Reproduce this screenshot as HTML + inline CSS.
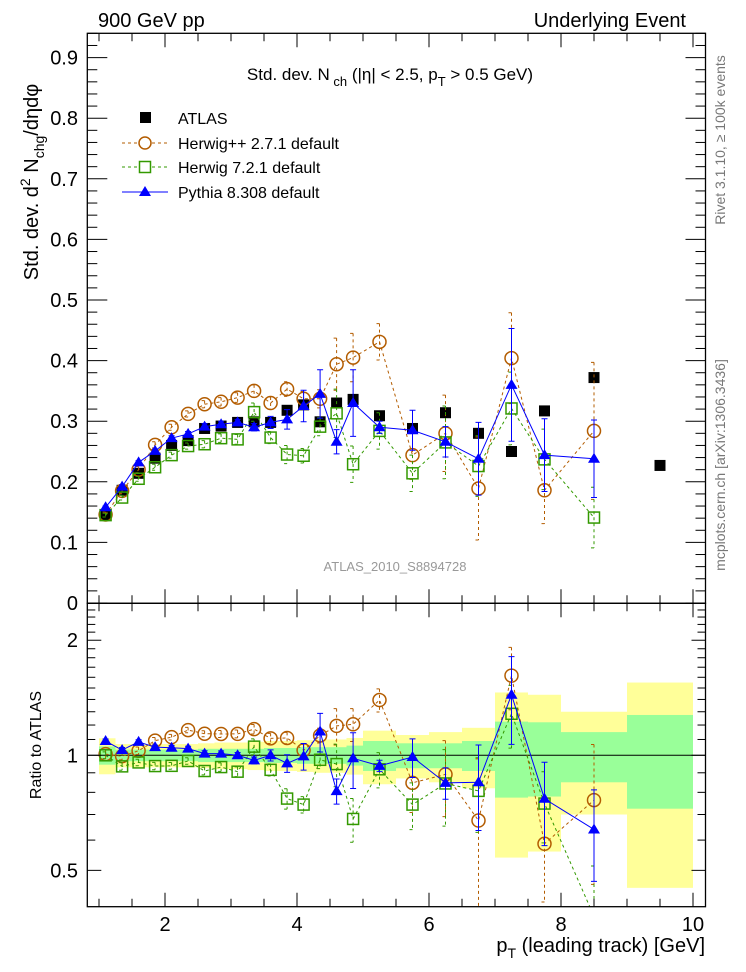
<!DOCTYPE html>
<html><head><meta charset="utf-8"><style>
body{margin:0;background:#fff}
svg{display:block;font-family:"Liberation Sans",sans-serif}
</style></head><body>
<svg id="chart" width="746" height="972" viewBox="0 0 746 972" xmlns="http://www.w3.org/2000/svg">
<rect width="746" height="972" fill="#fff"/>
<g id="ratioBands"></g>
<g id="marks"></g>
<g id="axes"></g>
<text x="98" y="27" font-size="20">900 GeV pp</text>
<text x="686" y="27" font-size="20" text-anchor="end">Underlying Event</text>
<text x="390" y="80" font-size="17" text-anchor="middle">Std. dev. N<tspan font-size="13" dy="6"> ch</tspan><tspan dy="-6"> (|η| &lt; 2.5, p</tspan><tspan font-size="13" dy="6">T</tspan><tspan dy="-6"> &gt; 0.5 GeV)</tspan></text>
<text x="395" y="571" font-size="13" fill="#999" text-anchor="middle">ATLAS_2010_S8894728</text>
<text transform="translate(725,140) rotate(-90)" font-size="14" fill="#777" text-anchor="middle">Rivet 3.1.10, ≥ 100k events</text>
<text transform="translate(725,465) rotate(-90)" font-size="14" fill="#777" text-anchor="middle">mcplots.cern.ch [arXiv:1306.3436]</text>
<text transform="translate(38,182) rotate(-90)" font-size="20" text-anchor="middle">Std. dev. d<tspan font-size="14" dy="-8">2</tspan><tspan dy="8"> N</tspan><tspan font-size="14" dy="6">chg</tspan><tspan dy="-6">/dηdφ</tspan></text>
<text transform="translate(41,745) rotate(-90)" font-size="16" text-anchor="middle">Ratio to ATLAS</text>
<text x="705" y="952" font-size="20" text-anchor="end">p<tspan font-size="14" dy="6">T</tspan><tspan dy="-6"> (leading track) [GeV]</tspan></text>
<g>
<rect x="140" y="112" width="11" height="11" fill="#000"/>
<text x="178" y="124" font-size="16">ATLAS</text>
<line x1="122" y1="143" x2="168" y2="143" stroke="#b35c00" stroke-dasharray="3,3"/>
<circle cx="145" cy="143" r="6" fill="#fff" stroke="#b35c00" stroke-width="1.5"/>
<text x="178" y="149" font-size="16">Herwig++ 2.7.1 default</text>
<line x1="122" y1="167" x2="168" y2="167" stroke="#339900" stroke-dasharray="3,3"/>
<rect x="139.5" y="161.5" width="11" height="11" fill="#fff" stroke="#339900" stroke-width="1.5"/>
<text x="178" y="173" font-size="16">Herwig 7.2.1 default</text>
<line x1="122" y1="192" x2="168" y2="192" stroke="#0000ff"/>
<polygon points="145,186 151,196 139,196" fill="#0000ff"/>
<text x="178" y="198" font-size="16">Pythia 8.308 default</text>
</g>
</svg>
<script>
const binLo = [1.0,1.25,1.5,1.75,2.0,2.25,2.5,2.75,3.0,3.25,3.5,3.75,4.0,4.25,4.5,4.75,5.0,5.5,6.0,6.5,7.0,7.5,8.0,9.0];
const binHi = [1.25,1.5,1.75,2.0,2.25,2.5,2.75,3.0,3.25,3.5,3.75,4.0,4.25,4.5,4.75,5.0,5.5,6.0,6.5,7.0,7.5,8.0,9.0,10.0];
const ptCenters = [1.1,1.35,1.6,1.85,2.1,2.35,2.6,2.85,3.1,3.35,3.6,3.85,4.1,4.35,4.6,4.85,5.25,5.75,6.25,6.75,7.25,7.75,8.5,9.5];
const atlas = [0.145,0.186,0.214,0.239,0.260,0.268,0.288,0.292,0.298,0.299,0.298,0.318,0.327,0.299,0.330,0.336,0.309,0.288,0.314,0.280,0.250,0.317,0.372,0.227];
const atlasTotRel = [0.108,0.07,0.07,0.07,0.07,0.07,0.075,0.08,0.08,0.085,0.09,0.09,0.095,0.10,0.10,0.11,0.16,0.13,0.15,0.18,0.46,0.44,0.30,0.55];
const atlasStatRel = [0.055,0.035,0.035,0.035,0.035,0.035,0.04,0.04,0.04,0.04,0.045,0.045,0.05,0.05,0.05,0.06,0.09,0.075,0.075,0.09,0.225,0.22,0.15,0.275];
const herwigpp = [0.146,0.185,0.220,0.261,0.290,0.312,0.328,0.332,0.339,0.350,0.330,0.353,0.337,0.337,0.394,0.405,0.431,0.244,0.280,0.189,0.404,0.186,0.284];
const herwigppErr = [0.004,0.004,0.005,0.005,0.005,0.005,0.006,0.007,0.008,0.01,0.01,0.012,0.012,0.015,0.043,0.04,0.03,0.04,0.063,0.085,0.075,0.055,0.113];
const herwig7 = [0.145,0.174,0.205,0.224,0.244,0.259,0.262,0.272,0.270,0.315,0.273,0.245,0.243,0.291,0.313,0.229,0.284,0.214,0.265,0.226,0.321,0.237,0.141];
const herwig7Err = [0.003,0.004,0.004,0.005,0.005,0.005,0.006,0.007,0.008,0.015,0.01,0.015,0.012,0.015,0.04,0.03,0.03,0.03,0.06,0.05,0.06,0.05,0.05];
const pythia = [0.158,0.192,0.232,0.251,0.272,0.279,0.291,0.295,0.298,0.290,0.298,0.303,0.325,0.345,0.266,0.330,0.290,0.285,0.266,0.238,0.360,0.244,0.238];
const pythiaErr = [0.002,0.003,0.003,0.003,0.004,0.004,0.005,0.005,0.005,0.006,0.01,0.016,0.026,0.04,0.02,0.055,0.01,0.033,0.025,0.06,0.093,0.06,0.064];
const yMainTicks = ["0","0.1","0.2","0.3","0.4","0.5","0.6","0.7","0.8","0.9"];
const xTickLabels = ["2","4","6","8","10"];
const ratioTickLabels = ["0.5","1","2"];

const NS="http://www.w3.org/2000/svg";
const L=87.3,R=705.5,T=33.3,SEP=603.3,B=906.7;
const X=v=>99+66*(v-1);
const Y=v=>603-606*v;
const RY=r=>755.3-166*Math.log(r);
const clampR=y=>Math.max(SEP,Math.min(B,y));
function mk(tag,at,parent){const e=document.createElementNS(NS,tag);for(const k in at)e.setAttribute(k,at[k]);parent.appendChild(e);return e;}
const bands=document.getElementById('ratioBands'),marks=document.getElementById('marks'),axes=document.getElementById('axes');

binLo.forEach((lo,i)=>{
  const hi=binHi[i];
  const y1=clampR(RY(1+atlasTotRel[i])),y2=clampR(RY(Math.max(0.01,1-atlasTotRel[i])));
  const r1=mk('rect',{x:X(lo),y:y1,width:X(hi)-X(lo),height:y2-y1,fill:'#ffff99'},bands);
  
  
  const s1=RY(1+atlasStatRel[i]),s2=RY(1-atlasStatRel[i]);
  const r2=mk('rect',{x:X(lo),y:s1,width:X(hi)-X(lo),height:s2-s1,fill:'#99ff99'},bands);
  
  
});
const ref=mk('line',{x1:L,x2:R,y1:RY(1),y2:RY(1),stroke:'#000','stroke-width':1},bands);



const clip=mk('clipPath',{id:'cMain'},marks);mk('rect',{x:L,y:T,width:R-L,height:SEP-T},clip);
const clip2=mk('clipPath',{id:'cRatio'},marks);mk('rect',{x:L,y:SEP,width:R-L,height:B-SEP},clip2);
const gMain=mk('g',{'clip-path':'url(#cMain)'},marks);
const gRatio=mk('g',{'clip-path':'url(#cRatio)'},marks);

function marker(kind,x,y,color,g){
  let e;
  if(kind==='circle')e=mk('circle',{cx:x,cy:y,r:6.5,fill:'none',stroke:color,'stroke-width':1.5},g);
  else if(kind==='square')e=mk('rect',{x:x-5.5,y:y-5.5,width:11,height:11,fill:'none',stroke:color,'stroke-width':1.5},g);
  else e=mk('polygon',{points:`${x},${y-6} ${x+6},${y+4} ${x-6},${y+4}`,fill:color},g);
  return e;
}
function series(name,vals,errs,color,kind,dash){
  [false,true].forEach(isRatio=>{
    const g=isRatio?gRatio:gMain;
    const yf=isRatio?(v=>RY(Math.max(v,0.01))):Y;
    const pts=vals.map((v,i)=>[X(ptCenters[i]),yf(isRatio?v/atlas[i]:v)]);
    const pl=mk('polyline',{points:pts.map(p=>p.join(',')).join(' '),fill:'none',stroke:color,'stroke-width':1,'stroke-dasharray':dash||'none'},g);
    
    
    vals.forEach((v,i)=>{
      const x=X(ptCenters[i]);
      const lo=isRatio?(v-errs[i])/atlas[i]:v-errs[i],hi=isRatio?(v+errs[i])/atlas[i]:v+errs[i];
      const y1=yf(hi),y2=yf(lo);
      const eb=mk('path',{d:`M${x},${y1}V${y2}M${x-3},${y1}H${x+3}M${x-3},${y2}H${x+3}`,stroke:color,'stroke-width':1,fill:'none','stroke-dasharray':dash||'none'},g);
      
      
      const m=marker(kind,x,yf(isRatio?v/atlas[i]:v),color,g);
      
      
    });
  });
}
atlas.forEach((v,i)=>{
  const x=X(ptCenters[i]);
  const e=mk('rect',{x:x-5.5,y:Y(v)-5.5,width:11,height:11,fill:'#000'},gMain);
  
  
});
series('herwigpp',herwigpp,herwigppErr,'#b35c00','circle','3,3');
series('herwig7',herwig7,herwig7Err,'#339900','square','3,3');
series('pythia',pythia,pythiaErr,'#0000ff','triangle',null);

[[T,SEP],[SEP,B]].forEach(([t,b],k)=>{
  const f=mk('rect',{x:L,y:t,width:R-L,height:b-t,fill:'none',stroke:'#000','stroke-width':1.3},axes);
  
  
  for(let v=1;v<=10.001;v+=0.5){
    const x=X(v),len=(Math.abs(v-Math.round(v/2)*2)<1e-6)?14:8;
    mk('line',{x1:x,x2:x,y1:b,y2:b-len,stroke:'#000'},axes);
    mk('line',{x1:x,x2:x,y1:t,y2:t+len,stroke:'#000'},axes);
  }
});
for(let k=0;k<=47;k++){const v=k*0.02,y=Y(v);if(y<T)break;const len=k%5===0?20:10;
  mk('line',{x1:L,x2:L+len,y1:y,y2:y,stroke:'#000'},axes);mk('line',{x1:R,x2:R-len,y1:y,y2:y,stroke:'#000'},axes);}
yMainTicks.forEach((s,i)=>{const t=mk('text',{x:78,y:Y(i*0.1)+7,'font-size':20,'text-anchor':'end'},axes);t.textContent=s;
  });
for(let k=4;k<=25;k++){const r=k/10,y=RY(r);if(y<SEP||y>B)continue;const len=(k===5||k===10||k===20)?14:8;
  mk('line',{x1:L,x2:L+len,y1:y,y2:y,stroke:'#000'},axes);mk('line',{x1:R,x2:R-len,y1:y,y2:y,stroke:'#000'},axes);}
ratioTickLabels.forEach(s=>{const y=RY(parseFloat(s));
  const t1=mk('text',{x:78,y:y+7,'font-size':20,'text-anchor':'end'},axes);t1.textContent=s;
  });
xTickLabels.forEach(s=>{const t=mk('text',{x:X(parseFloat(s)),y:931,'font-size':20,'text-anchor':'middle'},axes);t.textContent=s;
  });
</script>
</body></html>
